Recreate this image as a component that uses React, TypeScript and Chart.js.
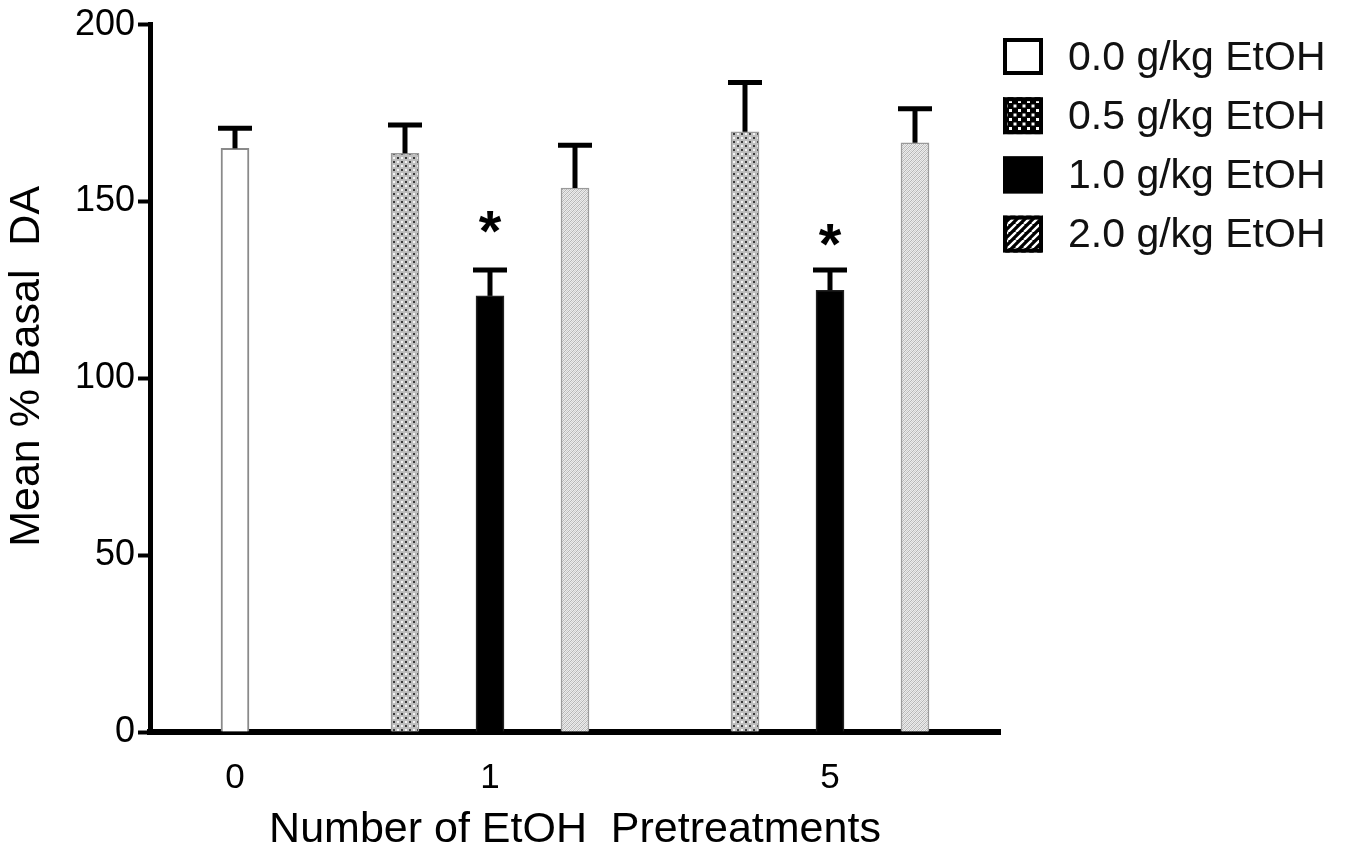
import React, { useEffect, useRef } from 'react';
import { Chart, registerables } from 'chart.js';

Chart.register(...registerables);

// ---- data ----
const groups = ['0', '1', '5']; // Number of EtOH pretreatments
const seriesNames = ['0.0 g/kg EtOH', '0.5 g/kg EtOH', '1.0 g/kg EtOH', '2.0 g/kg EtOH'];
const mean00: (number | null)[] = [165.0, null, null];
const mean05: (number | null)[] = [null, 163.6, 169.7];
const mean10: (number | null)[] = [null, 123.3, 124.9];
const mean20: (number | null)[] = [null, 153.8, 166.6];
const sem00: (number | null)[] = [5.7, null, null];
const sem05: (number | null)[] = [null, 8.0, 13.9];
const sem10: (number | null)[] = [null, 7.3, 5.7];
const sem20: (number | null)[] = [null, 12.1, 9.6];
const star10: (number | null)[] = [null, 144.2, 140.5]; // '*' significance marks over 1.0 g/kg bars
const yTicks = [0, 50, 100, 150, 200];

const FONT = '"Liberation Sans", Arial, sans-serif';
const W = 1348;
const H = 849;

// ---- build category slots: one empty slot at each edge and between groups ----
const means = [mean00, mean05, mean10, mean20];
const sems = [sem00, sem05, sem10, sem20];
const stars = [null, null, star10, null];
const slotLabels: string[] = [''];
const slotMeans: (number | null)[][] = means.map(() => [null]);
const slotSems: (number | null)[][] = means.map(() => [null]);
const slotStars: (number | null)[][] = means.map(() => [null]);
groups.forEach((g, gi) => {
  const present = means.map((m, si) => (m[gi] != null ? si : -1)).filter((si) => si >= 0);
  const center = Math.floor(present.length / 2);
  present.forEach((si, k) => {
    slotLabels.push(k === center ? g : '');
    means.forEach((m, sj) => {
      slotMeans[sj].push(sj === si ? m[gi] : null);
      slotSems[sj].push(sj === si ? sems[sj][gi] : null);
      const st = stars[sj];
      slotStars[sj].push(sj === si && st ? st[gi] : null);
    });
  });
  slotLabels.push('');
  means.forEach((_, sj) => {
    slotMeans[sj].push(null);
    slotSems[sj].push(null);
    slotStars[sj].push(null);
  });
});

function makePattern(size: number, draw: (c: CanvasRenderingContext2D) => void): CanvasPattern | string {
  const cv = document.createElement('canvas');
  cv.width = size;
  cv.height = size;
  const c = cv.getContext('2d');
  if (!c) return '#bbb';
  draw(c);
  const ctx = document.createElement('canvas').getContext('2d');
  return (ctx && ctx.createPattern(cv, 'repeat')) || '#bbb';
}

export default function App() {
  const ref = useRef<HTMLCanvasElement | null>(null);

  useEffect(() => {
    if (!ref.current) return;

    // bar fills
    const dotBar = makePattern(8, (c) => {
      c.fillStyle = '#bdbdbd';
      c.fillRect(0, 0, 8, 8);
      c.fillStyle = '#3a3a3a';
      c.fillRect(1, 1, 2, 2);
      c.fillRect(5, 5, 2, 2);
      c.fillStyle = '#f4f4f4';
      c.fillRect(5, 1, 2, 2);
      c.fillRect(1, 5, 2, 2);
    });
    const hatchBar = makePattern(4, (c) => {
      c.fillStyle = '#ececec';
      c.fillRect(0, 0, 4, 4);
      c.fillStyle = '#b4b4b4';
      for (let i = 0; i < 4; i++) c.fillRect(3 - i, i, 1, 1);
      c.fillStyle = '#cfcfcf';
      for (let i = 0; i < 4; i++) c.fillRect((5 - i) % 4, i, 1, 1);
    });
    // legend fills
    const dotLegend = makePattern(9, (c) => {
      c.fillStyle = '#000';
      c.fillRect(0, 0, 9, 9);
      c.fillStyle = '#fff';
      c.fillRect(1, 1, 3, 3);
      c.fillRect(5.5, 5.5, 3, 3);
    });
    const stripeLegend = makePattern(8, (c) => {
      c.fillStyle = '#000';
      c.fillRect(0, 0, 8, 8);
      c.strokeStyle = '#fff';
      c.lineWidth = 2.4;
      c.beginPath();
      for (let k = -8; k <= 16; k += 8) {
        c.moveTo(k, 8);
        c.lineTo(k + 8, 0);
      }
      c.stroke();
    });

    const barFills = ['#ffffff', dotBar, '#000000', hatchBar];
    const barBorders = ['#8a8a8a', '#9a9a9a', '#222222', '#9a9a9a'];
    const legendFills = ['#ffffff', dotLegend, '#000000', stripeLegend];

    const errorBars = {
      id: 'errorBars',
      afterDatasetsDraw(chart: any) {
        const ctx = chart.ctx;
        const y = chart.scales.y;
        ctx.save();
        ctx.strokeStyle = '#000';
        ctx.fillStyle = '#000';
        chart.data.datasets.forEach((_: any, di: number) => {
          const meta = chart.getDatasetMeta(di);
          meta.data.forEach((el: any, i: number) => {
            const v = slotMeans[di][i];
            const e = slotSems[di][i];
            if (v == null) return;
            if (e != null) {
              const yTop = y.getPixelForValue(v + e);
              ctx.lineWidth = 5;
              ctx.beginPath();
              ctx.moveTo(el.x, el.y);
              ctx.lineTo(el.x, yTop);
              ctx.stroke();
              ctx.beginPath();
              ctx.moveTo(el.x - 17, yTop);
              ctx.lineTo(el.x + 17, yTop);
              ctx.stroke();
            }
            const s = slotStars[di][i];
            if (s != null) {
              ctx.font = `bold 58px ${FONT}`;
              ctx.textAlign = 'center';
              ctx.textBaseline = 'alphabetic';
              const m = ctx.measureText('*');
              const cy = y.getPixelForValue(s);
              const base = cy + (m.actualBoundingBoxAscent - m.actualBoundingBoxDescent) / 2;
              ctx.fillText('*', el.x, base);
            }
          });
        });
        ctx.restore();
      },
      afterDraw(chart: any) {
        const ctx = chart.ctx;
        const area = chart.chartArea;
        ctx.save();
        const bx = area.right + 3;
        const tx = area.right + 68;
        seriesNames.forEach((name, i) => {
          const cy = 56.5 + i * 59.2;
          ctx.fillStyle = legendFills[i];
          ctx.fillRect(bx, cy - 18.5, 40, 37);
          ctx.strokeStyle = '#000';
          ctx.lineWidth = 4;
          ctx.strokeRect(bx + 2, cy - 16.5, 36, 33);
          ctx.fillStyle = '#111';
          ctx.font = `41px ${FONT}`;
          ctx.textAlign = 'left';
          ctx.textBaseline = 'middle';
          ctx.fillText(name, tx, cy + 2);
        });
        ctx.restore();
      },
    };

    const chart = new Chart(ref.current, {
      type: 'bar',
      data: {
        labels: slotLabels,
        datasets: seriesNames.map((name, i) => ({
          label: name,
          data: slotMeans[i],
          backgroundColor: barFills[i],
          borderColor: barBorders[i],
          borderWidth: i === 0 ? 2 : 1.5,
          barThickness: 28,
          grouped: false,
        })) as any,
      },
      options: {
        animation: false,
        responsive: false,
        devicePixelRatio: 1,
        layout: { padding: { left: 0, right: 348, top: 24.5, bottom: 0 } },
        plugins: {
          legend: { display: false },
          tooltip: { enabled: false },
        },
        scales: {
          x: {
            type: 'category',
            offset: false,
            z: 1,
            grid: { display: false, drawOnChartArea: false, drawTicks: false },
            border: { display: true, color: '#000', width: 6 },
            ticks: {
              autoSkip: false,
              maxRotation: 0,
              minRotation: 0,
              color: '#000',
              padding: 25,
              font: { family: FONT, size: 35 },
            },
            title: {
              display: true,
              text: 'Number of EtOH  Pretreatments',
              color: '#000',
              padding: 0,
              font: { family: FONT, size: 43, lineHeight: 0.88 },
            },
            afterFit: (s: any) => {
              s.height = 117;
            },
          },
          y: {
            min: 0,
            max: 200,
            z: 1,
            afterBuildTicks: (s: any) => {
              s.ticks = yTicks.map((v) => ({ value: v }));
            },
            grid: {
              drawOnChartArea: false,
              drawTicks: true,
              tickLength: 12,
              tickWidth: 4,
              tickColor: '#000',
            },
            border: { display: true, color: '#000', width: 5 },
            ticks: {
              color: '#000',
              padding: 3,
              font: { family: FONT, size: 36 },
            },
            title: {
              display: true,
              text: '  Mean % Basal  DA',
              color: '#000',
              padding: { top: 6, bottom: 0 },
              font: { family: FONT, size: 43, lineHeight: 1.0 },
            },
            afterFit: (s: any) => {
              s.width = 150;
            },
          },
        },
      },
      plugins: [errorBars],
    });

    return () => chart.destroy();
  }, []);

  return (
    <div style={{ position: 'fixed', left: 0, top: 0, width: W, height: H, background: '#fff' }}>
      <canvas ref={ref} width={W} height={H} style={{ display: 'block', width: W, height: H }} />
    </div>
  );
}
